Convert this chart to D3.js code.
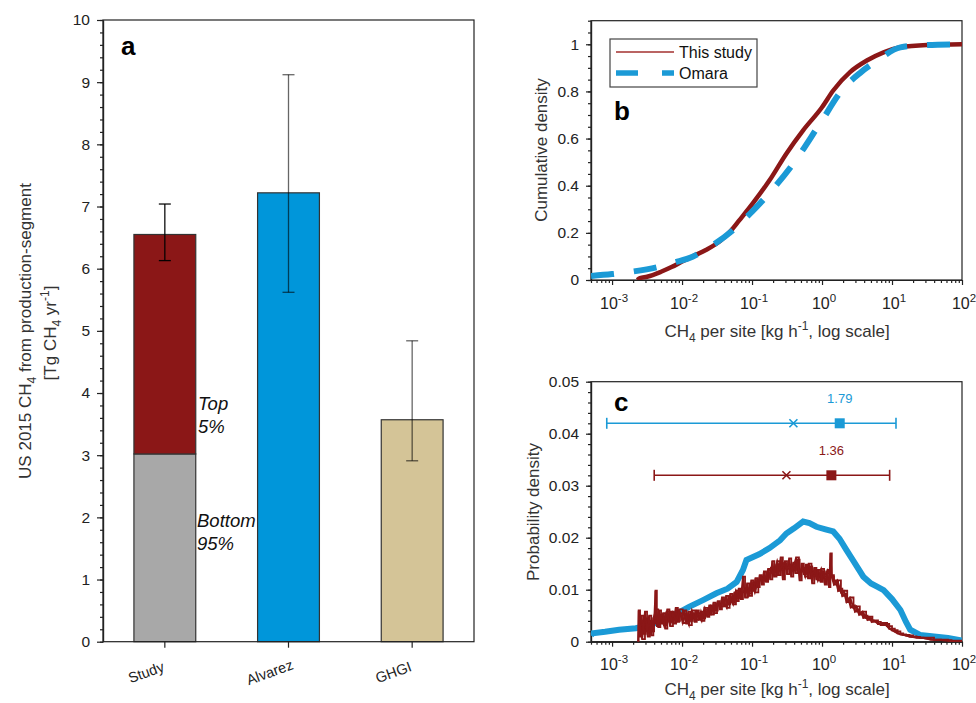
<!DOCTYPE html>
<html>
<head>
<meta charset="utf-8">
<script src="https://d3js.org/d3.v7.min.js"></script>
<style>
body { margin: 0; background: #fff; }
svg { font-family: "Liberation Sans", Arial, sans-serif; }
</style>
</head>
<body>
<svg id="chart" width="976" height="703"></svg>
<script>
// ---- panel a data ----
const categories = ["Study", "Alvarez", "GHGI"];
const totals = [6.55, 7.22, 3.57];
const studyBottom95 = 3.02;
const errLow = [6.13, 5.62, 2.91];
const errHigh = [7.04, 9.12, 4.84];

// ---- panel b data: [log10 kg/h, cumulative density] ----
const studyCdf = [[-2.64,0],[-2.6,0.008],[-2.5,0.014],[-2.42,0.021],[-2.3,0.035],[-2.15,0.055],[-2.0,0.078],
  [-1.85,0.1],[-1.66,0.127],[-1.44,0.169],[-1.3,0.21],[-1.18,0.254],[-0.99,0.325],[-0.75,0.423],
  [-0.51,0.536],[-0.27,0.635],[0.0,0.733],[0.16,0.804],[0.4,0.882],[0.64,0.931],[0.88,0.966],
  [1.12,0.987],[1.5,0.997],[2.0,1.0]];
const omaraCdf = [[-3.3,0.017],[-3.0,0.025],[-2.7,0.036],[-2.33,0.056],[-2.1,0.075],[-1.85,0.099],
  [-1.55,0.15],[-1.27,0.212],[-1.0,0.29],[-0.8,0.353],[-0.41,0.494],[-0.03,0.663],[0.3,0.811],
  [0.55,0.88],[0.79,0.931],[1.12,0.987],[1.5,0.997],[2.0,1.0]];

// ---- panel c data: [log10 kg/h, probability density] ----
const omaraPdf = [[-3.3,0.0012],[-3.28,0.0016],[-3.1,0.0019],[-2.9,0.0023],[-2.66,0.0026],[-2.5,0.0031],
  [-2.33,0.0038],[-2.2,0.0047],[-2.05,0.0056],[-1.9,0.0067],[-1.7,0.008],[-1.51,0.0093],[-1.35,0.0102],
  [-1.22,0.0115],[-1.13,0.0138],[-1.08,0.0157],[-0.9,0.0168],[-0.75,0.018],[-0.6,0.0195],[-0.51,0.0208],
  [-0.4,0.0218],[-0.27,0.0231],[-0.18,0.0228],[-0.08,0.0221],[0.05,0.0216],[0.16,0.0212],[0.25,0.0198],
  [0.35,0.0176],[0.45,0.0155],[0.59,0.0125],[0.7,0.0112],[0.8,0.0105],[0.88,0.0099],[1.0,0.0082],
  [1.12,0.0061],[1.2,0.0038],[1.26,0.0023],[1.4,0.0013],[1.6,0.001],[1.8,0.0007],[2.0,0.0002]];
const studyPdf = [[-2.63,0],[-2.62,0.006],[-2.6,0.001],[-2.58,0.005],[-2.55,0.0015],[-2.52,0.0045],
  [-2.49,0.001],[-2.46,0.004],[-2.43,0.002],[-2.4,0.0035],[-2.38,0.0098],[-2.36,0.003],[-2.33,0.006],
  [-2.3,0.0035],[-2.27,0.0055],[-2.24,0.0025],[-2.21,0.0062],[-2.18,0.0038],[-2.15,0.0058],[-2.12,0.0035],
  [-2.09,0.0065],[-2.06,0.004],[-2.03,0.0055],[-2.0,0.0045],[-1.97,0.006],[-1.94,0.0035],[-1.91,0.0058],
  [-1.88,0.004],[-1.85,0.0055],[-1.82,0.0038],[-1.79,0.006],[-1.76,0.0042],[-1.73,0.0058],[-1.7,0.0045],
  [-1.67,0.0062],[-1.64,0.0048],[-1.61,0.007],[-1.58,0.0052],[-1.55,0.0075],[-1.52,0.006],[-1.49,0.0078],
  [-1.46,0.0062],[-1.43,0.0085],[-1.4,0.0068],[-1.37,0.0088],[-1.34,0.0072],[-1.31,0.0092],[-1.28,0.0075],
  [-1.25,0.0095],[-1.22,0.0078],[-1.19,0.0102],[-1.16,0.0082],[-1.13,0.0125],[-1.1,0.0085],[-1.07,0.0112],
  [-1.04,0.0092],[-1.01,0.0118],[-0.98,0.0098],[-0.95,0.0122],[-0.92,0.0105],[-0.89,0.0128],[-0.86,0.011],
  [-0.83,0.0135],[-0.8,0.0115],[-0.77,0.014],[-0.74,0.012],[-0.71,0.0155],[-0.68,0.0125],[-0.65,0.0148],
  [-0.62,0.0128],[-0.59,0.0162],[-0.56,0.012],[-0.53,0.0155],[-0.5,0.013],[-0.47,0.016],[-0.44,0.0125],
  [-0.41,0.0152],[-0.38,0.0132],[-0.35,0.0158],[-0.32,0.0118],[-0.29,0.015],[-0.26,0.013],[-0.23,0.0148],
  [-0.2,0.0122],[-0.17,0.0145],[-0.14,0.0112],[-0.11,0.0142],[-0.08,0.012],[-0.05,0.0138],[-0.02,0.0115],
  [0.01,0.0135],[0.04,0.011],[0.07,0.0132],[0.1,0.0105],[0.12,0.017],[0.14,0.0125],[0.17,0.0118],
  [0.2,0.0115],[0.23,0.0098],[0.26,0.0102],[0.29,0.0088],[0.32,0.0092],[0.35,0.0076],[0.38,0.008],
  [0.41,0.0066],[0.44,0.007],[0.47,0.0058],[0.5,0.0062],[0.53,0.0052],[0.56,0.0056],[0.59,0.0046],
  [0.62,0.005],[0.65,0.0042],[0.68,0.0045],[0.71,0.0038],[0.74,0.0041],[0.8,0.0034],[0.86,0.0036],
  [0.93,0.003],[1.0,0.0022],[1.08,0.0016],[1.16,0.0013],[1.25,0.001],[1.35,0.0008],[1.45,0.0007],
  [1.55,0.0004],[1.7,0.0003],[1.85,0.0001],[2.0,0]];
// a second bootstrap run of the same study curve (the band in the figure is several overlaid runs)
const studyPdfRun2 = [[-2.61,0.004],[-2.57,0.0005],[-2.53,0.0058],[-2.5,0.002],[-2.47,0.005],[-2.44,0.0012],
  [-2.41,0.0045],[-2.37,0.0062],[-2.34,0.0028],[-2.31,0.0052],[-2.26,0.0032],[-2.22,0.0058],[-2.17,0.003],
  [-2.13,0.0055],[-2.08,0.0038],[-2.04,0.0062],[-1.99,0.0036],[-1.95,0.0052],[-1.9,0.0032],[-1.86,0.006],
  [-1.81,0.0042],[-1.77,0.0055],[-1.72,0.004],[-1.68,0.0065],[-1.63,0.0052],[-1.59,0.0068],[-1.54,0.0055],
  [-1.5,0.0072],[-1.45,0.0068],[-1.41,0.008],[-1.36,0.0065],[-1.32,0.0085],[-1.27,0.0072],[-1.23,0.0098],
  [-1.18,0.0085],[-1.14,0.0095],[-1.09,0.0102],[-1.05,0.0088],[-1.0,0.0112],[-0.96,0.0095],[-0.91,0.0118],
  [-0.87,0.0125],[-0.82,0.0118],[-0.78,0.0132],[-0.73,0.0142],[-0.69,0.0128],[-0.64,0.0155],[-0.6,0.0138],
  [-0.55,0.015],[-0.51,0.014],[-0.46,0.0148],[-0.42,0.0138],[-0.37,0.0162],[-0.33,0.0135],[-0.28,0.0142],
  [-0.24,0.0125],[-0.19,0.015],[-0.15,0.0128],[-0.1,0.0138],[-0.06,0.0118],[-0.01,0.014],[0.03,0.0125],
  [0.08,0.0138],[0.13,0.0128],[0.17,0.011],[0.22,0.0118],[0.27,0.0095],[0.31,0.0098],[0.36,0.0082],
  [0.4,0.0085],[0.45,0.0065],[0.49,0.0068],[0.54,0.0055],[0.58,0.0058],[0.63,0.0046],[0.67,0.0048],
  [0.72,0.004],[0.78,0.0038],[0.84,0.0032],[0.9,0.0034],[0.96,0.0025],[1.04,0.002],[1.12,0.0014],
  [1.2,0.0012],[1.3,0.0009],[1.4,0.0008],[1.6,0.0004],[1.8,0.0002],[2.0,0]];

// summary rows in panel c: Omara (blue), this study (red)
const summaryLevel = [0.042, 0.032];
const summaryLow = [0.00084, 0.0040];
const summaryMedian = [0.39, 0.31];
const summaryMean = [1.79, 1.36];
const summaryHigh = [11.4, 9.25];

const ink = "#222";
const red = "#8B1717";
const blue = "#1B9AD6";
const svg = d3.select("#chart");

function styleAxis(g, size) {
    g.selectAll("path, line").attr("stroke", ink).attr("stroke-width", 1.2);
    g.selectAll("text").attr("font-size", size).attr("fill", ink).attr("font-family", "Liberation Sans, Arial, sans-serif");
}

// =============== panel a ===============
const xa = d3.scaleBand().domain(categories).range([103, 474]).paddingInner(0.5).paddingOuter(0.25);
const ya = d3.scaleLinear().domain([0, 10]).range([641.7, 20]);

const segs = [
    {cat: "Study", y0: 0, y1: studyBottom95, fill: "#A8A8A8"},
    {cat: "Study", y0: studyBottom95, y1: totals[0], fill: "#8B1717"},
    {cat: "Alvarez", y0: 0, y1: totals[1], fill: "#0096DA"},
    {cat: "GHGI", y0: 0, y1: totals[2], fill: "#D4C497"}
];
svg.append("g").selectAll("rect").data(segs).enter().append("rect")
    .attr("x", d => xa(d.cat))
    .attr("width", xa.bandwidth())
    .attr("y", d => ya(d.y1))
    .attr("height", d => ya(d.y0) - ya(d.y1))
    .attr("fill", d => d.fill)
    .attr("stroke", "#333")
    .attr("stroke-width", 1.2);

// error bars
const errG = svg.append("g");
categories.forEach(function(c, i) {
    let cx = xa(c) + xa.bandwidth() / 2;
    let op = i === 0 ? 0.95 : 0.6;
    let g = errG.append("g").attr("stroke", "#000").attr("stroke-opacity", op).attr("stroke-width", 1.3);
    g.append("line").attr("x1", cx).attr("x2", cx).attr("y1", ya(errLow[i])).attr("y2", ya(errHigh[i]));
    g.append("line").attr("x1", cx - 6).attr("x2", cx + 6).attr("y1", ya(errLow[i])).attr("y2", ya(errLow[i]));
    g.append("line").attr("x1", cx - 6).attr("x2", cx + 6).attr("y1", ya(errHigh[i])).attr("y2", ya(errHigh[i]));
});

// frame
svg.append("rect").attr("x", 103).attr("y", 20).attr("width", 371).attr("height", 621.7)
    .attr("fill", "none").attr("stroke", ink).attr("stroke-width", 1.2);

svg.append("g").attr("transform", "translate(103,0)")
    .call(d3.axisLeft(ya).tickValues(d3.range(0, 10.01, 0.2)).tickSize(3).tickSizeOuter(0).tickFormat(""))
    .call(g => styleAxis(g, 15));
svg.append("g").attr("transform", "translate(103,0)")
    .call(d3.axisLeft(ya).tickValues(d3.range(0, 11, 1)).tickSize(6).tickSizeOuter(0).tickPadding(7).tickFormat(d3.format("d")))
    .call(g => styleAxis(g, 15.5));

let xaAxis = svg.append("g").attr("transform", "translate(0,641.7)")
    .call(d3.axisBottom(xa).tickSize(6).tickSizeOuter(0).tickFormat(""))
    .call(g => styleAxis(g, 14));
xaAxis.select(".domain").remove();
svg.append("g").selectAll("text").data(categories).enter().append("text")
    .attr("transform", d => "translate(" + (xa(d) + xa.bandwidth() / 2 - 17) + ",677) rotate(-20)")
    .attr("text-anchor", "middle")
    .attr("font-size", 14.5)
    .attr("fill", ink)
    .text(d => d);

svg.append("text").attr("x", 121).attr("y", 55).attr("font-size", 26).attr("font-weight", "bold").attr("fill", "#000").text("a");

const italic = svg.append("g").attr("font-style", "italic").attr("font-size", 18.5).attr("fill", "#111");
italic.append("text").attr("x", 198).attr("y", 410).text("Top");
italic.append("text").attr("x", 198).attr("y", 433).text("5%");
italic.append("text").attr("x", 197).attr("y", 527).text("Bottom");
italic.append("text").attr("x", 197).attr("y", 550).text("95%");

// y title (two lines)
let t1 = svg.append("text").attr("transform", "translate(31,331) rotate(-90)")
    .attr("text-anchor", "middle").attr("font-size", 17).attr("fill", "#333");
t1.append("tspan").text("US 2015 CH");
t1.append("tspan").attr("dy", 5).attr("font-size", 12).text("4");
t1.append("tspan").attr("dy", -5).text(" from production-segment");
let t2 = svg.append("text").attr("transform", "translate(56,333) rotate(-90)")
    .attr("text-anchor", "middle").attr("font-size", 17).attr("fill", "#333");
t2.append("tspan").text("[Tg CH");
t2.append("tspan").attr("dy", 5).attr("font-size", 12).text("4");
t2.append("tspan").attr("dy", -5).text("  yr");
t2.append("tspan").attr("dy", -7).attr("font-size", 12).text("-1");
t2.append("tspan").attr("dy", 7).text("]");

// =============== shared log x axis helper ===============
function logAxis(top, bottom, labelBaseline, titleBaseline) {
    const x = d3.scaleLog().domain([5e-4, 100]).range([591, 962]);
    let minor = x.ticks().filter(d => Math.abs(Math.log10(d) - Math.round(Math.log10(d))) > 1e-6);
    let major = x.ticks().filter(d => Math.abs(Math.log10(d) - Math.round(Math.log10(d))) < 1e-6);
    svg.append("g").attr("transform", "translate(0," + bottom + ")")
        .call(d3.axisBottom(x).tickValues(minor).tickSize(3).tickSizeOuter(0).tickFormat(""))
        .call(g => styleAxis(g, 15));
    svg.append("g").attr("transform", "translate(0," + bottom + ")")
        .call(d3.axisBottom(x).tickValues(major).tickSize(5).tickSizeOuter(0).tickFormat(""))
        .call(g => styleAxis(g, 15));
    let lab = svg.append("g").attr("font-size", 16).attr("fill", ink);
    major.forEach(function(v) {
        let t = lab.append("text").attr("x", x(v) + 2).attr("y", labelBaseline).attr("text-anchor", "middle");
        t.append("tspan").text("10");
        t.append("tspan").attr("dy", -7).attr("font-size", 11.5).text(String(Math.round(Math.log10(v))));
    });
    let tt = svg.append("text").attr("x", 777).attr("y", titleBaseline).attr("text-anchor", "middle")
        .attr("font-size", 17).attr("fill", "#333");
    tt.append("tspan").text("CH");
    tt.append("tspan").attr("dy", 5).attr("font-size", 12).text("4");
    tt.append("tspan").attr("dy", -5).text(" per site [kg h");
    tt.append("tspan").attr("dy", -7).attr("font-size", 12).text("-1");
    tt.append("tspan").attr("dy", 7).text(", log scale]");
    // frame
    svg.append("rect").attr("x", 591).attr("y", top).attr("width", 371).attr("height", bottom - top)
        .attr("fill", "none").attr("stroke", ink).attr("stroke-width", 1.2);
    return x;
}

// =============== panel b ===============
const xb = logAxis(20.7, 280, 309, 337);
const yb = d3.scaleLinear().domain([0, 1.1]).range([280, 20.7]);
svg.append("g").attr("transform", "translate(591,0)")
    .call(d3.axisLeft(yb).tickValues(d3.range(0, 1.101, 0.05)).tickSize(3).tickSizeOuter(0).tickFormat(""))
    .call(g => styleAxis(g, 15));
svg.append("g").attr("transform", "translate(591,0)")
    .call(d3.axisLeft(yb).tickValues([0, 0.2, 0.4, 0.6, 0.8, 1]).tickSize(5).tickSizeOuter(0).tickPadding(7).tickFormat(d3.format("~g")))
    .call(g => styleAxis(g, 15.5));

svg.append("clipPath").attr("id", "clipB").append("rect").attr("x", 591).attr("y", 20.7).attr("width", 371).attr("height", 259.3);
svg.append("clipPath").attr("id", "clipC").append("rect").attr("x", 591).attr("y", 381.7).attr("width", 371).attr("height", 260);

let lineB = d3.line().x(d => xb(Math.pow(10, d[0]))).y(d => yb(d[1])).curve(d3.curveMonotoneX);
svg.append("path").datum(studyCdf).attr("d", lineB).attr("clip-path", "url(#clipB)")
    .attr("fill", "none").attr("stroke", red).attr("stroke-width", 4.5);
svg.append("path").datum(omaraCdf).attr("d", lineB).attr("clip-path", "url(#clipB)")
    .attr("fill", "none").attr("stroke", blue).attr("stroke-width", 6).attr("stroke-dasharray", "23,20");

// legend
let leg = svg.append("g");
leg.append("rect").attr("x", 610).attr("y", 39).attr("width", 147).attr("height", 48)
    .attr("fill", "#fff").attr("stroke", "#444").attr("stroke-width", 1.2);
leg.append("line").attr("x1", 616).attr("x2", 674).attr("y1", 52).attr("y2", 52).attr("stroke", "#A3302F").attr("stroke-width", 1.5);
leg.append("line").attr("x1", 616).attr("x2", 674).attr("y1", 73).attr("y2", 73).attr("stroke", blue)
    .attr("stroke-width", 5.5).attr("stroke-dasharray", "22,24");
leg.append("text").attr("x", 679).attr("y", 58).attr("font-size", 16).attr("fill", "#111").text("This study");
leg.append("text").attr("x", 679).attr("y", 79).attr("font-size", 16).attr("fill", "#111").text("Omara");

svg.append("text").attr("x", 614).attr("y", 120).attr("font-size", 26).attr("font-weight", "bold").attr("fill", "#000").text("b");
svg.append("text").attr("transform", "translate(547,150) rotate(-90)").attr("text-anchor", "middle")
    .attr("font-size", 17).attr("fill", "#333").text("Cumulative density");

// =============== panel c ===============
const xc = logAxis(381.7, 641.7, 670, 695);
const yc = d3.scaleLinear().domain([0, 0.05]).range([641.7, 381.7]);
svg.append("g").attr("transform", "translate(591,0)")
    .call(d3.axisLeft(yc).tickValues(d3.range(0, 0.0501, 0.002)).tickSize(3).tickSizeOuter(0).tickFormat(""))
    .call(g => styleAxis(g, 15));
svg.append("g").attr("transform", "translate(591,0)")
    .call(d3.axisLeft(yc).tickValues([0, 0.01, 0.02, 0.03, 0.04, 0.05]).tickSize(5).tickSizeOuter(0).tickPadding(7).tickFormat(d3.format("~g")))
    .call(g => styleAxis(g, 15.5));

let stepC = d3.line().x(d => xc(Math.pow(10, d[0]))).y(d => yc(d[1])).curve(d3.curveStepAfter);
let linC = d3.line().x(d => xc(Math.pow(10, d[0]))).y(d => yc(d[1]));
svg.append("path").datum(omaraPdf).attr("d", linC).attr("clip-path", "url(#clipC)")
    .attr("fill", "none").attr("stroke", blue).attr("stroke-width", 6).attr("stroke-linejoin", "miter");
[studyPdf, studyPdfRun2].forEach(function(run) {
    svg.append("path").datum(run).attr("d", stepC).attr("clip-path", "url(#clipC)")
        .attr("fill", "none").attr("stroke", red).attr("stroke-width", 1.8);
    svg.append("path").datum(run).attr("d", linC).attr("clip-path", "url(#clipC)")
        .attr("fill", "none").attr("stroke", red).attr("stroke-width", 1.8);
});

// summary whiskers
const rowColors = [blue, red];
summaryLevel.forEach(function(lv, i) {
    let g = svg.append("g").attr("stroke", rowColors[i]).attr("stroke-width", 1.6).attr("fill", rowColors[i]);
    let yy = yc(lv);
    g.append("line").attr("x1", xc(summaryLow[i])).attr("x2", xc(summaryHigh[i])).attr("y1", yy).attr("y2", yy);
    [summaryLow[i], summaryHigh[i]].forEach(function(v) {
        g.append("line").attr("x1", xc(v)).attr("x2", xc(v)).attr("y1", yy - 5.5).attr("y2", yy + 5.5);
    });
    let mx = xc(summaryMedian[i]);
    g.append("path").attr("d", "M" + (mx - 4) + "," + (yy - 4) + "L" + (mx + 4) + "," + (yy + 4) +
        "M" + (mx - 4) + "," + (yy + 4) + "L" + (mx + 4) + "," + (yy - 4));
    g.append("rect").attr("x", xc(summaryMean[i]) - 5).attr("y", yy - 5).attr("width", 10).attr("height", 10).attr("stroke", "none");
    svg.append("text").attr("x", xc(summaryMean[i])).attr("y", yy - 20).attr("text-anchor", "middle")
        .attr("font-size", 13).attr("fill", rowColors[i]).text(d3.format(".2f")(summaryMean[i]));
});

svg.append("text").attr("x", 614).attr("y", 411).attr("font-size", 26).attr("font-weight", "bold").attr("fill", "#000").text("c");
svg.append("text").attr("transform", "translate(539,512) rotate(-90)").attr("text-anchor", "middle")
    .attr("font-size", 17).attr("fill", "#333").text("Probability density");
</script>
</body>
</html>
